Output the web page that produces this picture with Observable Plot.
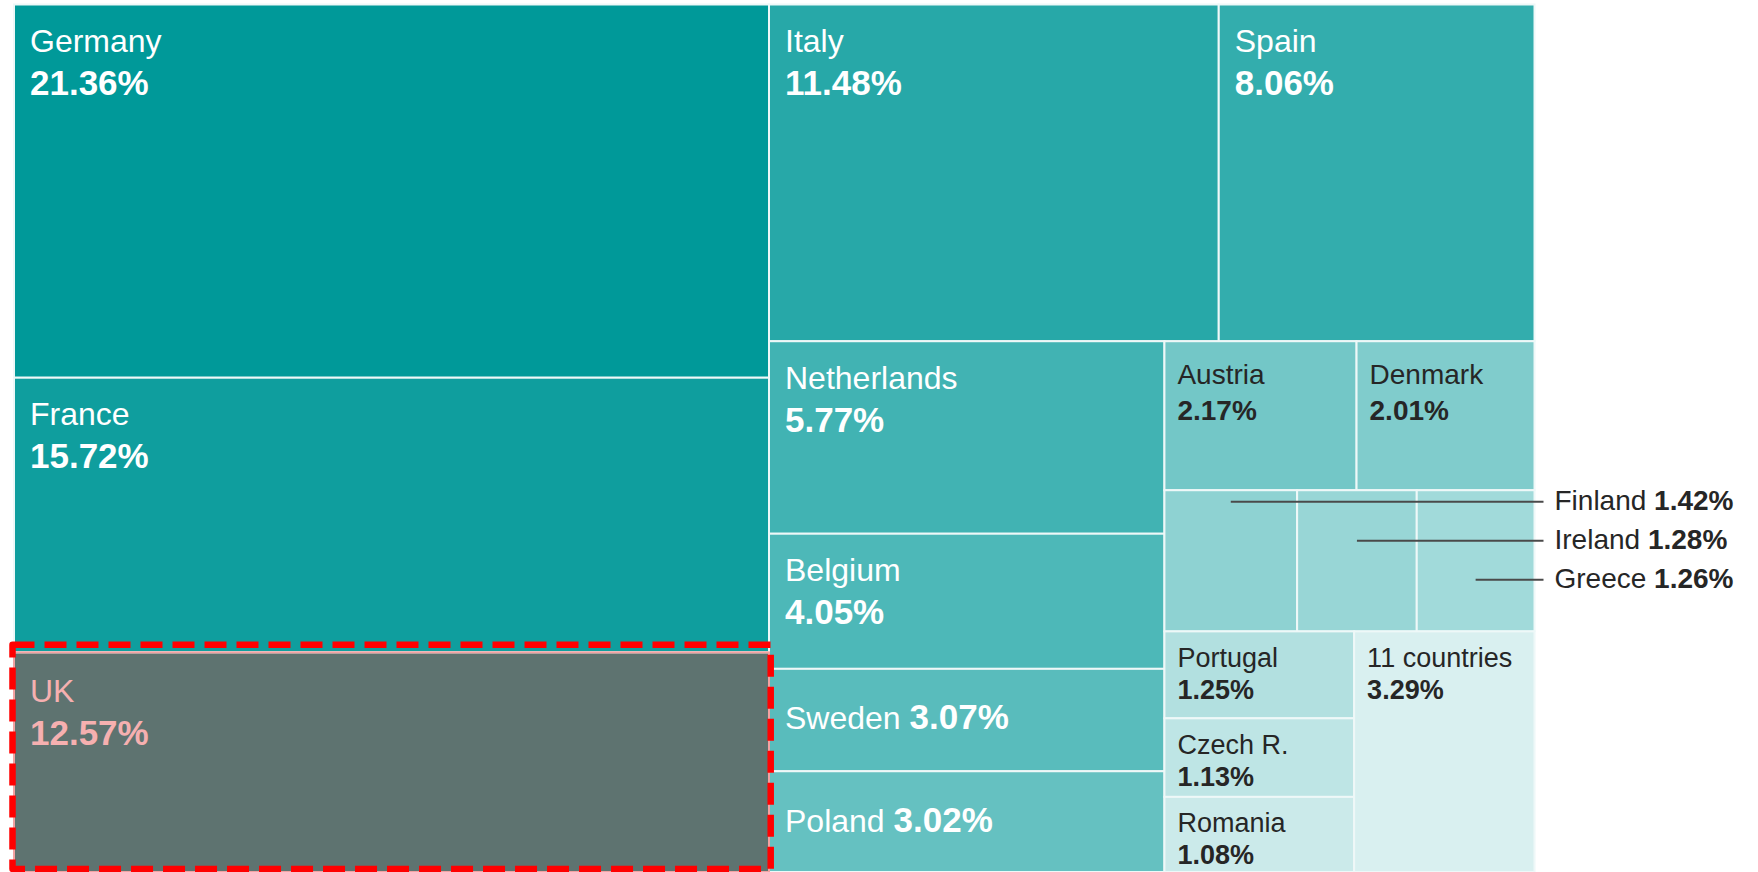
<!DOCTYPE html>
<html><head><meta charset="utf-8">
<script src="https://cdn.jsdelivr.net/npm/d3@7"></script>
<script src="https://cdn.jsdelivr.net/npm/@observablehq/plot@0.6"></script>
<style>
html,body{margin:0;padding:0;background:#fff;}
#chart svg{display:block;}
</style></head><body><div id="chart"></div>
<script>
// ---- data ----
const countries = ["Germany","France","UK","Italy","Spain","Netherlands","Belgium","Sweden","Poland","Austria","Denmark","Finland","Ireland","Greece","Portugal","Czech R.","Romania","11 countries"];
const shares = [21.36, 15.72, 12.57, 11.48, 8.06, 5.77, 4.05, 3.07, 3.02, 2.17, 2.01, 1.42, 1.28, 1.26, 1.25, 1.13, 1.08, 3.29];
// nesting of the treemap blocks (grouping only)
const groups = ["a","a","a","b/top","b/top","b/low/c","b/low/c","b/low/c","b/low/c","b/low/d/r1","b/low/d/r1","b/low/d/r2","b/low/d/r2","b/low/d/r2","b/low/d/r3/e","b/low/d/r3/e","b/low/d/r3/e","b/low/d/r3"];
const highlighted = "UK";

// ---- styles ----
const fills = ["#009999","#0f9e9e","#5e7370","#27a8a8","#33adad","#41b3b3","#4db8b8","#59bcbc","#65c1c1","#73c7c7","#80cccc","#8ed2d2","#98d6d6","#a1dada","#b2e0e0","#bee5e5","#cbeaea","#d9f0f0"];
const FONT = "'Liberation Sans', Arial, Helvetica, sans-serif";
const WIDTH = 1758, HEIGHT = 872;
const ML = 14, MT = 4.5, W = 1520.5, H = 867.5;
const MR = WIDTH - ML - W;

// ---- hierarchy ----
const rootObj = {key: "root", children: []};
countries.forEach((c, i) => {
  let node = rootObj;
  for (const key of groups[i].split("/")) {
    let child = node.children.find(d => d.key === key && d.children);
    if (!child) { child = {key, children: []}; node.children.push(child); }
    node = child;
  }
  node.children.push({name: c, value: shares[i], i});
});
const hier = d3.hierarchy(rootObj).sum(d => d.value || 0);
d3.treemap().tile(d3.treemapSliceDice).size([W, H])(hier);
const cells = hier.leaves().map(l => ({
  name: l.data.name, i: l.data.i, value: l.data.value,
  label: l.data.value.toFixed(2) + "%",
  x0: l.x0, x1: l.x1, y0: l.y0, y1: l.y1
}));

// ---- label tiers ----
const ctx = document.createElement("canvas").getContext("2d");
function measure(t, size, weight) { ctx.font = `${weight||"normal"} ${size}px ${FONT}`; return ctx.measureText(t).width; }

const PADB = 15.5, PADS = 12.5;
const big = cells.filter(d => d.i < 9);
const bigTwo = big.filter(d => d.y1 - d.y0 >= 110 && d.name !== highlighted);
const ukCell = big.filter(d => d.name === highlighted);
const inline = big.filter(d => d.y1 - d.y0 < 110).map(d => ({...d, vx: d.x0 + PADB + measure(d.name + " ", 32)}));
const rest = cells.filter(d => d.i >= 9);
const callouts = rest.filter(d => d.x1 - d.x0 < 150);
const mid = rest.filter(d => d.x1 - d.x0 >= 150 && d.y1 - d.y0 >= 120 && d.y1 - d.y0 < 170);
const small = rest.filter(d => d.x1 - d.x0 >= 150 && !mid.includes(d));
const cTop = d3.min(callouts, d => d.y0);
const callData = callouts.map((d, k) => {
  const ly = cTop + 11 + k * 39;
  return {...d, ly, cx: (d.x0 + d.x1) / 2, tx: W + 19.5, vx: W + 19.5 + measure(d.name + " ", 28)};
});

const dark = "#262626";
const pink = "#f6b0b0";
const txt = {textAnchor: "start", lineAnchor: "bottom", fontFamily: FONT};

const chart = Plot.plot({
  width: WIDTH, height: HEIGHT,
  marginLeft: ML, marginTop: MT, marginRight: MR, marginBottom: 0,
  x: {domain: [0, W], axis: null},
  y: {domain: [0, H], reverse: true, axis: null},
  color: {domain: countries, range: fills},
  style: {fontFamily: FONT, background: "white", overflow: "visible"},
  marks: [
    Plot.rect(cells, {x1: "x0", x2: "x1", y1: "y0", y2: "y1", fill: "name", stroke: "#eef8f8", strokeWidth: 2}),
    Plot.rect(ukCell, {x1: "x0", x2: "x1", y1: "y0", y2: "y1", fill: "none", stroke: "#f2a2a2", strokeWidth: 2}),
    Plot.rect(ukCell, {x1: "x0", x2: "x1", y1: "y0", y2: "y1", fill: "none", stroke: "#ff0000", strokeWidth: 6.5,
      strokeDasharray: "22,10", strokeLinejoin: "round", insetTop: -7.5, insetLeft: -1.5, insetRight: -1.7, insetBottom: 3}),
    // big two-line labels
    Plot.text(bigTwo, {...txt, x: d => d.x0 + PADB, y: d => d.y0 + 47, text: "name", fontSize: 32, fill: "white"}),
    Plot.text(bigTwo, {...txt, x: d => d.x0 + PADB, y: d => d.y0 + 90, text: "label", fontSize: 35, fontWeight: "bold", fill: "white"}),
    Plot.text(ukCell, {...txt, x: d => d.x0 + PADB, y: d => d.y0 + 49, text: "name", fontSize: 32, fill: pink}),
    Plot.text(ukCell, {...txt, x: d => d.x0 + PADB, y: d => d.y0 + 92, text: "label", fontSize: 35, fontWeight: "bold", fill: pink}),
    // inline labels
    Plot.text(inline, {...txt, x: d => d.x0 + PADB, y: d => d.y0 + 60, text: "name", fontSize: 32, fill: "white"}),
    Plot.text(inline, {...txt, x: "vx", y: d => d.y0 + 60, text: "label", fontSize: 35, fontWeight: "bold", fill: "white"}),
    // mid labels
    Plot.text(mid, {...txt, x: d => d.x0 + PADS, y: d => d.y0 + 42, text: "name", fontSize: 28, fill: dark}),
    Plot.text(mid, {...txt, x: d => d.x0 + PADS, y: d => d.y0 + 78, text: "label", fontSize: 28, fontWeight: "bold", fill: dark}),
    // small labels
    Plot.text(small, {...txt, x: d => d.x0 + PADS, y: d => d.y0 + 35, text: "name", fontSize: 27, fill: dark}),
    Plot.text(small, {...txt, x: d => d.x0 + PADS, y: d => d.y0 + 67, text: "label", fontSize: 27, fontWeight: "bold", fill: dark}),
    // callouts
    Plot.ruleY(callData, {y: "ly", x1: "cx", x2: d => W + 9, stroke: "#4a4a4a", strokeWidth: 2}),
    Plot.text(callData, {...txt, x: "tx", y: d => d.ly + 8.5, text: "name", fontSize: 28, fill: dark}),
    Plot.text(callData, {...txt, x: "vx", y: d => d.ly + 8.5, text: "label", fontSize: 28, fontWeight: "bold", fill: dark})
  ]
});
document.getElementById("chart").append(chart);
</script>
</body></html>
